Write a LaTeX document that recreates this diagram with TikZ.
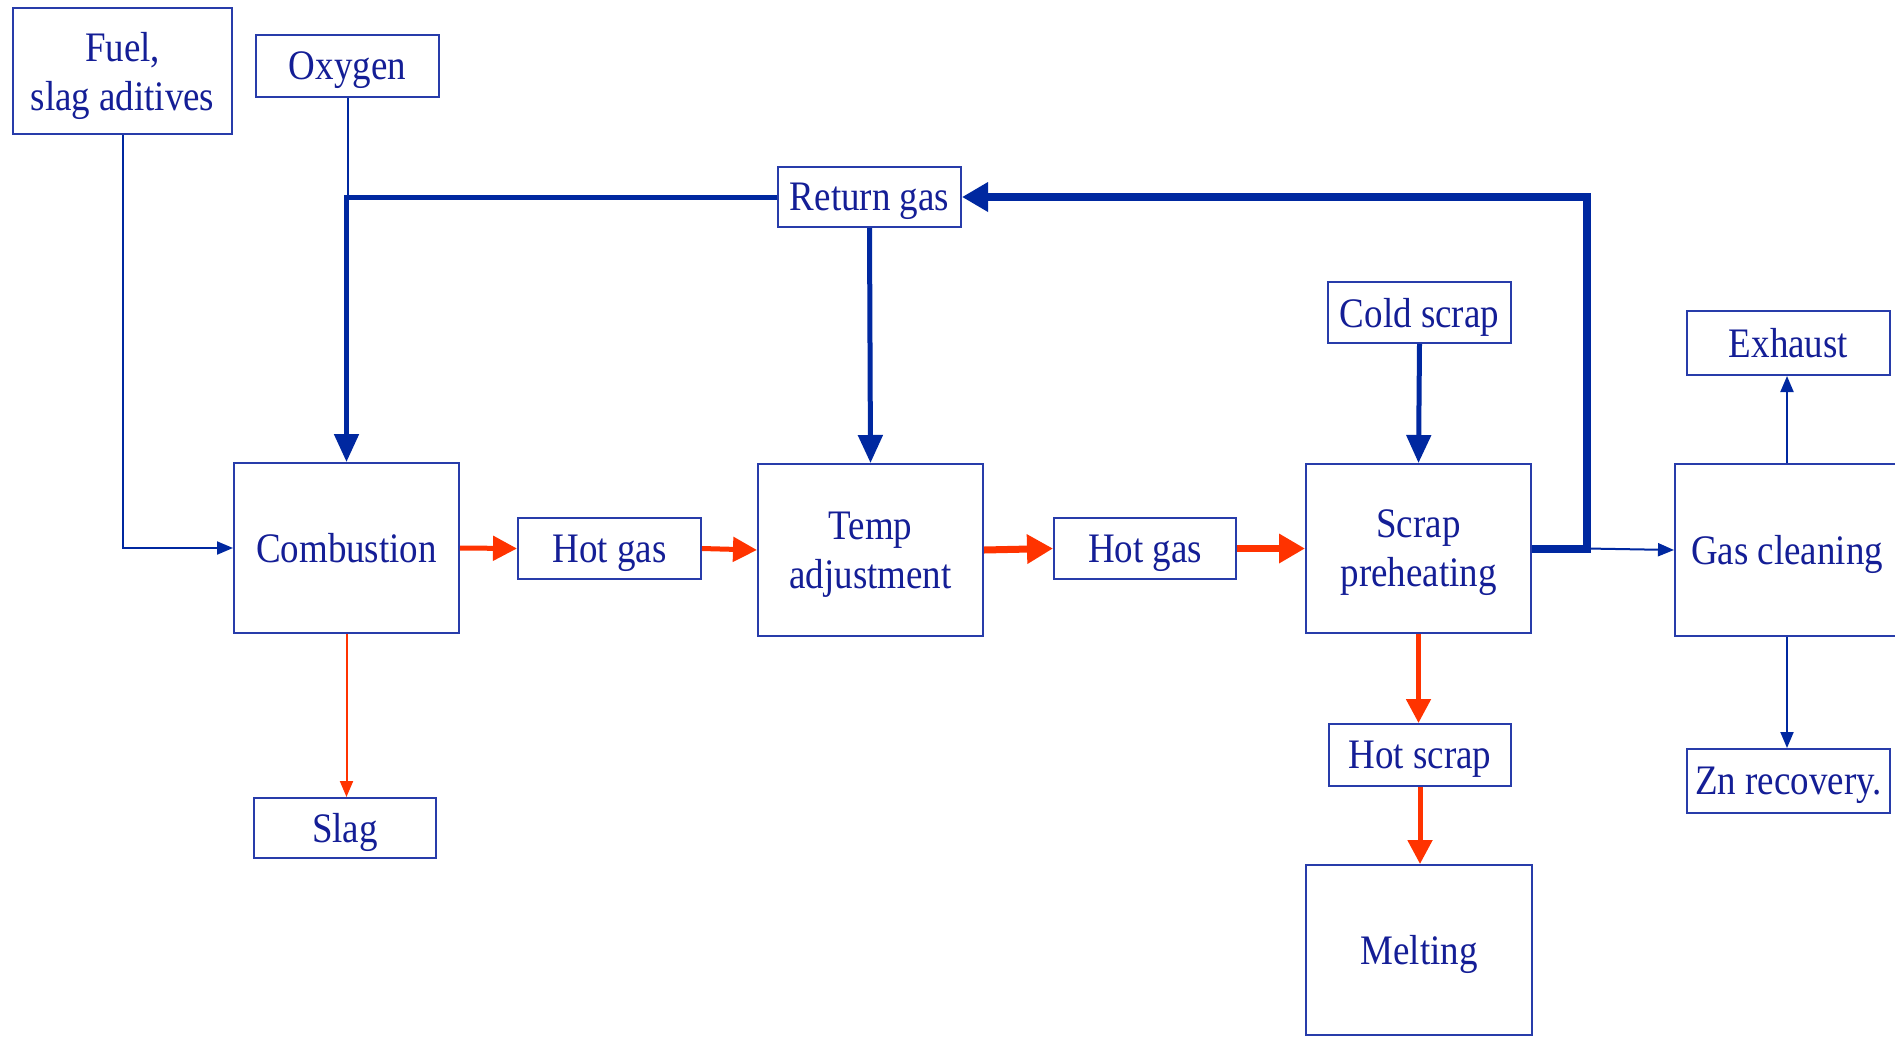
\documentclass[tikz,border=0pt]{standalone}
\usepackage{fontspec}
\setmainfont{Liberation Serif}[FakeStretch=0.88]
\usetikzlibrary{arrows.meta}
\definecolor{bx}{RGB}{40,60,170}
\definecolor{tx}{RGB}{20,30,150}
\definecolor{ln}{RGB}{0,40,160}
\definecolor{rd}{RGB}{255,51,0}
\begin{document}
\begin{tikzpicture}[x=1pt,y=-1pt,
  box/.style={draw=bx, line width=2pt, fill=white, text=tx, align=center, inner sep=0pt,
    text depth=0pt, font=\fontsize{42}{49}\selectfont},
  thinarrow/.style={draw=ln, line width=2pt, -{Triangle[length=16pt,width=13pt]}},
  thinline/.style={draw=ln, line width=2pt},
  thickarrow/.style={draw=ln, line width=5pt, line join=miter, -{Triangle[length=28pt,width=24pt]}},
  vthickarrow/.style={draw=ln, line width=8pt, line join=miter, -{Triangle[length=26pt,width=28pt]}},
  redthin/.style={draw=rd, line width=2pt, -{Triangle[length=16pt,width=13pt]}},
  redarrow/.style={draw=rd, line width=5pt, -{Triangle[length=24pt,width=24pt]}},
  redthick/.style={draw=rd, line width=7pt, -{Triangle[length=26pt,width=28pt]}}
]
\useasboundingbox (0,0) rectangle (1895,1037);
\fill[white] (0,0) rectangle (1895,1037);

\node[box, minimum width=219pt, minimum height=126pt] (fuel) at (122.5,71) {Fuel,\\slag aditives};
\node[box, minimum width=183pt, minimum height=62pt] (oxy) at (347.5,66) {Oxygen};
\node[box, minimum width=183pt, minimum height=60pt] (rg) at (869.5,197) {Return gas};
\node[box, minimum width=183pt, minimum height=61pt] (cold) at (1419.5,312.5) {Cold scrap};
\node[box, minimum width=203pt, minimum height=64pt] (exh) at (1788.5,343) {Exhaust};
\node[box, minimum width=225pt, minimum height=170pt] (comb) at (346.5,548) {Combustion};
\node[box, minimum width=183pt, minimum height=61pt] (hg1) at (609.5,548.5) {Hot gas};
\node[box, minimum width=225pt, minimum height=172pt] (temp) at (870.5,550) {Temp\\adjustment};
\node[box, minimum width=182pt, minimum height=61pt] (hg2) at (1145,548.5) {Hot gas};
\node[box, minimum width=225pt, minimum height=169pt] (scrap) at (1418.5,548.5) {Scrap\\preheating};
\node[box, minimum width=224pt, minimum height=172pt] (gc) at (1787,550) {Gas cleaning};
\node[box, minimum width=182pt, minimum height=62pt] (hs) at (1420,755) {Hot scrap};
\node[box, minimum width=203pt, minimum height=64pt] (zn) at (1788.5,781) {Zn recovery.};
\node[box, minimum width=182pt, minimum height=60pt] (slag) at (345,828) {Slag};
\node[box, minimum width=226pt, minimum height=170pt] (melt) at (1419,950) {Melting};

\coordinate (bend) at (1587,548.5);
\coordinate (top) at (1587,197);

% blue connectors
\draw[thinarrow] (fuel.south) |- (comb.west);
\draw[thinline] (oxy.south) -- (oxy.south |- rg.west);
\draw[thickarrow] (rg.west) -| (comb.north);
\draw[thickarrow] (rg.south) -- (temp.north);
\draw[thickarrow] (cold.south) -- (scrap.north);
\draw[vthickarrow] (scrap.east) -- (bend) -- (top) -- (rg.east);
\draw[thinarrow] (bend) -- (gc.west);
\draw[thinarrow] (gc.north) -- (gc.north |- exh.south);
\draw[thinarrow] (gc.south) -- (gc.south |- zn.north);

% red connectors
\draw[redthin] (comb.south) -- (comb.south |- slag.north);
\draw[redarrow] (comb.east) -- (hg1.west);
\draw[redarrow] (hg1.east) -- (temp.west);
\draw[redthick] (temp.east) -- (hg2.west);
\draw[redthick] (hg2.east) -- (scrap.west);
\draw[redarrow] (scrap.south) -- (scrap.south |- hs.north);
\draw[redarrow] (hs.south) -- (hs.south |- melt.north);
\end{tikzpicture}
\end{document}
